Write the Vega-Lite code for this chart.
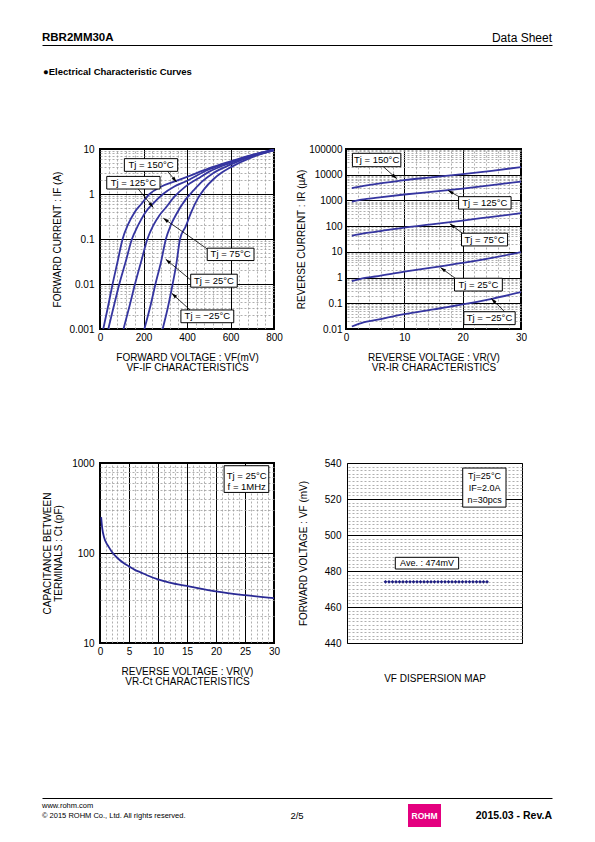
{
  "$schema": "https://vega.github.io/schema/vega-lite/v6.json",
  "padding": {"left": 40, "top": 31, "right": 5, "bottom": 5},
  "background": "white",
  "spacing": 0,
  "config": {
    "font": "Liberation Sans",
    "view": {"stroke": null},
    "axis": {"labelFont": "Liberation Sans", "titleFont": "Liberation Sans", "labelFontSize": 10, "titleFontSize": 10, "labelColor": "black", "titleColor": "black", "titleFontWeight": "normal", "ticks": false, "domain": false, "grid": false, "labelFlush": false, "labelOverlap": false, "labelBound": false},
    "text": {"font": "Liberation Sans", "color": "black"}
  },
  "datasets": {
    "vfif": [
      {"tj": "150", "vf": 15, "cur": 0.001}, {"tj": "150", "vf": 36, "cur": 0.003}, {"tj": "150", "vf": 58, "cur": 0.01}, {"tj": "150", "vf": 80, "cur": 0.03}, {"tj": "150", "vf": 104, "cur": 0.1}, {"tj": "150", "vf": 127, "cur": 0.2}, {"tj": "150", "vf": 160, "cur": 0.4}, {"tj": "150", "vf": 190, "cur": 0.6}, {"tj": "150", "vf": 228, "cur": 1.0}, {"tj": "150", "vf": 280, "cur": 1.45}, {"tj": "150", "vf": 350, "cur": 1.95}, {"tj": "150", "vf": 400, "cur": 2.4}, {"tj": "150", "vf": 500, "cur": 3.7}, {"tj": "150", "vf": 600, "cur": 5.3}, {"tj": "150", "vf": 700, "cur": 7.4}, {"tj": "150", "vf": 800, "cur": 9.7},
      {"tj": "125", "vf": 38, "cur": 0.001}, {"tj": "125", "vf": 62, "cur": 0.003}, {"tj": "125", "vf": 89, "cur": 0.01}, {"tj": "125", "vf": 117, "cur": 0.03}, {"tj": "125", "vf": 147, "cur": 0.1}, {"tj": "125", "vf": 175, "cur": 0.2}, {"tj": "125", "vf": 210, "cur": 0.4}, {"tj": "125", "vf": 245, "cur": 0.62}, {"tj": "125", "vf": 290, "cur": 1.0}, {"tj": "125", "vf": 340, "cur": 1.45}, {"tj": "125", "vf": 394, "cur": 1.9}, {"tj": "125", "vf": 500, "cur": 3.5}, {"tj": "125", "vf": 600, "cur": 5.1}, {"tj": "125", "vf": 700, "cur": 7.3}, {"tj": "125", "vf": 800, "cur": 9.6},
      {"tj": "75", "vf": 108, "cur": 0.001}, {"tj": "75", "vf": 134, "cur": 0.003}, {"tj": "75", "vf": 161, "cur": 0.01}, {"tj": "75", "vf": 188, "cur": 0.03}, {"tj": "75", "vf": 218, "cur": 0.1}, {"tj": "75", "vf": 245, "cur": 0.2}, {"tj": "75", "vf": 272, "cur": 0.33}, {"tj": "75", "vf": 303, "cur": 0.5}, {"tj": "75", "vf": 340, "cur": 0.85}, {"tj": "75", "vf": 394, "cur": 1.48}, {"tj": "75", "vf": 450, "cur": 2.2}, {"tj": "75", "vf": 500, "cur": 3.1}, {"tj": "75", "vf": 600, "cur": 4.9}, {"tj": "75", "vf": 700, "cur": 7.1}, {"tj": "75", "vf": 800, "cur": 9.5},
      {"tj": "25", "vf": 204, "cur": 0.001}, {"tj": "25", "vf": 230, "cur": 0.003}, {"tj": "25", "vf": 255, "cur": 0.01}, {"tj": "25", "vf": 280, "cur": 0.03}, {"tj": "25", "vf": 303, "cur": 0.1}, {"tj": "25", "vf": 325, "cur": 0.2}, {"tj": "25", "vf": 350, "cur": 0.35}, {"tj": "25", "vf": 394, "cur": 0.76}, {"tj": "25", "vf": 430, "cur": 1.2}, {"tj": "25", "vf": 470, "cur": 1.9}, {"tj": "25", "vf": 520, "cur": 2.9}, {"tj": "25", "vf": 600, "cur": 4.5}, {"tj": "25", "vf": 700, "cur": 6.9}, {"tj": "25", "vf": 800, "cur": 9.4},
      {"tj": "-25", "vf": 288, "cur": 0.001}, {"tj": "-25", "vf": 312, "cur": 0.003}, {"tj": "-25", "vf": 334, "cur": 0.01}, {"tj": "-25", "vf": 352, "cur": 0.03}, {"tj": "-25", "vf": 368, "cur": 0.1}, {"tj": "-25", "vf": 394, "cur": 0.19}, {"tj": "-25", "vf": 420, "cur": 0.4}, {"tj": "-25", "vf": 450, "cur": 0.8}, {"tj": "-25", "vf": 480, "cur": 1.3}, {"tj": "-25", "vf": 520, "cur": 2.1}, {"tj": "-25", "vf": 560, "cur": 3.0}, {"tj": "-25", "vf": 600, "cur": 3.9}, {"tj": "-25", "vf": 700, "cur": 6.6}, {"tj": "-25", "vf": 800, "cur": 9.3}
    ],
    "vfifLabels": [
      {"label": "Tj = 150°C", "x1": 112, "x2": 357, "y1": 3.19, "y2": 6.1, "tx": 234.5, "ty": 4.41, "ax": 311, "ay": 3.19, "bx": 352, "by": 1.84},
      {"label": "Tj = 125°C", "x1": 31, "x2": 276, "y1": 1.29, "y2": 2.46, "tx": 153.5, "ty": 1.78, "ax": 176, "ay": 1.29, "bx": 245, "by": 0.5},
      {"label": "Tj = 75°C", "x1": 493, "x2": 708, "y1": 0.0332, "y2": 0.0625, "tx": 600.5, "ty": 0.0455, "ax": 493, "ay": 0.06, "bx": 291, "by": 0.29},
      {"label": "Tj = 25°C", "x1": 417, "x2": 631, "y1": 0.0085, "y2": 0.0165, "tx": 524, "ty": 0.0118, "ax": 417, "ay": 0.0123, "bx": 302, "by": 0.0356},
      {"label": "Tj = −25°C", "x1": 372, "x2": 615, "y1": 0.00138, "y2": 0.00265, "tx": 493.5, "ty": 0.0019, "ax": 414, "ay": 0.00265, "bx": 330, "by": 0.0062}
    ],
    "vrir": [
      {"tj": "150", "vr": 1, "ir": 3000}, {"tj": "150", "vr": 3, "ir": 3700}, {"tj": "150", "vr": 5, "ir": 4300}, {"tj": "150", "vr": 10, "ir": 6200}, {"tj": "150", "vr": 15, "ir": 8000}, {"tj": "150", "vr": 20, "ir": 10500}, {"tj": "150", "vr": 25, "ir": 14200}, {"tj": "150", "vr": 30, "ir": 19700},
      {"tj": "125", "vr": 1, "ir": 900}, {"tj": "125", "vr": 3, "ir": 1100}, {"tj": "125", "vr": 5, "ir": 1250}, {"tj": "125", "vr": 10, "ir": 1700}, {"tj": "125", "vr": 15, "ir": 2200}, {"tj": "125", "vr": 20, "ir": 2900}, {"tj": "125", "vr": 25, "ir": 3900}, {"tj": "125", "vr": 30, "ir": 5400},
      {"tj": "75", "vr": 1, "ir": 42}, {"tj": "75", "vr": 3, "ir": 52}, {"tj": "75", "vr": 5, "ir": 60}, {"tj": "75", "vr": 10, "ir": 88}, {"tj": "75", "vr": 15, "ir": 120}, {"tj": "75", "vr": 20, "ir": 165}, {"tj": "75", "vr": 25, "ir": 230}, {"tj": "75", "vr": 30, "ir": 320},
      {"tj": "25", "vr": 1, "ir": 0.72}, {"tj": "25", "vr": 3, "ir": 0.95}, {"tj": "25", "vr": 5, "ir": 1.1}, {"tj": "25", "vr": 10, "ir": 1.7}, {"tj": "25", "vr": 15, "ir": 2.5}, {"tj": "25", "vr": 20, "ir": 3.7}, {"tj": "25", "vr": 25, "ir": 5.8}, {"tj": "25", "vr": 30, "ir": 9.8},
      {"tj": "-25", "vr": 1, "ir": 0.0125}, {"tj": "-25", "vr": 3, "ir": 0.018}, {"tj": "-25", "vr": 5, "ir": 0.022}, {"tj": "-25", "vr": 10, "ir": 0.038}, {"tj": "-25", "vr": 15, "ir": 0.058}, {"tj": "-25", "vr": 20, "ir": 0.09}, {"tj": "-25", "vr": 25, "ir": 0.15}, {"tj": "-25", "vr": 30, "ir": 0.27}
    ],
    "vrirLabels": [
      {"label": "Tj = 150°C", "x1": 1.1, "x2": 9.4, "y1": 20500, "y2": 68000, "tx": 5.25, "ty": 37300, "ax": 6.4, "ay": 20500, "bx": 8.7, "by": 7000},
      {"label": "Tj = 125°C", "x1": 19.3, "x2": 28.3, "y1": 460, "y2": 1400, "tx": 23.8, "ty": 800, "ax": 19.6, "ay": 1300, "bx": 17.5, "by": 2450},
      {"label": "Tj = 75°C", "x1": 19.8, "x2": 27.7, "y1": 17, "y2": 53, "tx": 23.75, "ty": 30, "ax": 20.1, "ay": 50, "bx": 17.8, "by": 124},
      {"label": "Tj = 25°C", "x1": 18.6, "x2": 26.8, "y1": 0.3, "y2": 0.94, "tx": 22.7, "ty": 0.53, "ax": 18.9, "ay": 0.88, "bx": 16.2, "by": 2.45},
      {"label": "Tj = −25°C", "x1": 20.2, "x2": 29.0, "y1": 0.0148, "y2": 0.047, "tx": 24.6, "ty": 0.0264, "ax": 27.2, "ay": 0.047, "bx": 24.9, "by": 0.155}
    ],
    "vrct": [
      {"vr": 0.2, "ct": 250}, {"vr": 0.4, "ct": 185}, {"vr": 0.7, "ct": 150}, {"vr": 1, "ct": 133}, {"vr": 1.5, "ct": 117}, {"vr": 2, "ct": 104}, {"vr": 3, "ct": 88}, {"vr": 4, "ct": 78}, {"vr": 5, "ct": 71}, {"vr": 6, "ct": 65}, {"vr": 7, "ct": 61}, {"vr": 8, "ct": 57}, {"vr": 10, "ct": 51}, {"vr": 12, "ct": 47}, {"vr": 15, "ct": 43}, {"vr": 18, "ct": 39.5}, {"vr": 20, "ct": 37.5}, {"vr": 25, "ct": 34}, {"vr": 30, "ct": 31.5}
    ],
    "ctBox": [{"x1": 21.4, "x2": 29.1, "y1": 471, "y2": 933}],
    "ctText": [{"label": "Tj = 25°C", "tx": 25.3, "ty": 722}, {"label": "f = 1MHz", "tx": 25.3, "ty": 536}],
    "disp": [
      {"n": 1, "vf": 474}, {"n": 2, "vf": 474}, {"n": 3, "vf": 474}, {"n": 4, "vf": 474}, {"n": 5, "vf": 474}, {"n": 6, "vf": 474}, {"n": 7, "vf": 474}, {"n": 8, "vf": 474}, {"n": 9, "vf": 474}, {"n": 10, "vf": 474},
      {"n": 11, "vf": 474}, {"n": 12, "vf": 474}, {"n": 13, "vf": 474}, {"n": 14, "vf": 474}, {"n": 15, "vf": 474}, {"n": 16, "vf": 474}, {"n": 17, "vf": 474}, {"n": 18, "vf": 474}, {"n": 19, "vf": 474}, {"n": 20, "vf": 474},
      {"n": 21, "vf": 474}, {"n": 22, "vf": 474}, {"n": 23, "vf": 474}, {"n": 24, "vf": 474}, {"n": 25, "vf": 474}, {"n": 26, "vf": 474}, {"n": 27, "vf": 474}, {"n": 28, "vf": 474}, {"n": 29, "vf": 474}, {"n": 30, "vf": 474}
    ],
    "dispBox": [{"x1": 23.06, "x2": 35.43, "y1": 515.5, "y2": 537.2}, {"x1": 3.8, "x2": 21.9, "y1": 481.1, "y2": 487.6}],
    "dispText": [{"label": "Tj=25°C", "tx": 29.3, "ty": 532.9}, {"label": "IF=2.0A", "tx": 29.3, "ty": 526.1}, {"label": "n=30pcs", "tx": 29.3, "ty": 519.2}, {"label": "Ave. : 474mV", "tx": 12.86, "ty": 484.3}]
  },
  "vconcat": [
    {
      "width": 452, "height": 14,
      "data": {"values": [{"label": "RBR2MM30A", "col": "left"}, {"label": "Data Sheet", "col": "right"}]},
      "encoding": {
        "x": {"field": "col", "type": "nominal", "scale": {"type": "point", "domain": ["left", "right"], "padding": 0, "range": [-58, 452]}, "axis": {"orient": "bottom", "labels": false, "ticks": false, "grid": false, "domain": true, "domainColor": "black", "domainWidth": 1, "title": null}},
        "text": {"field": "label"}
      },
      "layer": [
        {"transform": [{"filter": "datum.col === 'left'"}], "mark": {"type": "text", "align": "left", "baseline": "middle", "fontSize": 11.5, "fontWeight": "bold"}},
        {"transform": [{"filter": "datum.col === 'right'"}], "mark": {"type": "text", "align": "right", "baseline": "middle", "fontSize": 12}}
      ]
    },
    {
      "width": 452, "height": 54,
      "data": {"values": [{"label": "●Electrical Characteristic Curves", "col": "left"}]},
      "mark": {"type": "text", "align": "left", "baseline": "middle", "fontSize": 9.5, "fontWeight": "bold"},
      "encoding": {
        "x": {"field": "col", "type": "nominal", "scale": {"type": "point", "domain": ["left", "right"], "padding": 0, "range": [-57, 452]}, "axis": null},
        "text": {"field": "label"}
      }
    },
    {"width": 1, "height": 44, "data": {"values": []}, "mark": {"type": "point", "opacity": 0}},
    {
      "bounds": "flush",
      "spacing": 72,
      "hconcat": [
        {
          "width": 174, "height": 180,
          "view": {"stroke": "black", "strokeWidth": 2},
          "layer": [
            {
              "data": {"name": "vfif"},
              "mark": {"type": "line", "color": "#3535a0", "strokeWidth": 1.8, "interpolate": "monotone", "clip": true},
              "encoding": {
                "x": {"field": "vf", "type": "quantitative", "scale": {"domain": [0, 800], "nice": false, "zero": false},
                  "axis": {"orient": "top", "values": [40, 80, 120, 160, 240, 280, 320, 360, 440, 480, 520, 560, 640, 680, 720, 760], "grid": true, "gridColor": "#9a9a9a", "gridDash": [2, 2], "gridWidth": 0.8, "labels": false, "title": null}},
                "y": {"field": "cur", "type": "quantitative", "scale": {"type": "log", "domain": [0.001, 10], "nice": false},
                  "axis": {"orient": "right", "values": [0.002, 0.003, 0.004, 0.005, 0.006, 0.007, 0.008, 0.009, 0.02, 0.03, 0.04, 0.05, 0.06, 0.07, 0.08, 0.09, 0.2, 0.3, 0.4, 0.5, 0.6, 0.7, 0.8, 0.9, 2, 3, 4, 5, 6, 7, 8, 9], "grid": true, "gridColor": "#9a9a9a", "gridDash": [2, 2], "gridWidth": 0.8, "labels": false, "title": null}},
                "detail": {"field": "tj", "type": "nominal"}
              }
            },
            {
              "data": {"name": "vfifLabels"},
              "mark": {"type": "rule", "color": "black", "strokeWidth": 0.8},
              "encoding": {
                "x": {"field": "ax", "type": "quantitative", "scale": {"domain": [0, 800], "nice": false, "zero": false},
                  "axis": {"orient": "bottom", "values": [0, 200, 400, 600, 800], "grid": true, "gridColor": "black", "gridWidth": 1, "labelPadding": 3, "title": ["FORWARD VOLTAGE : VF(mV)", "VF-IF CHARACTERISTICS"], "titlePadding": 10, "titleLineHeight": 10}},
                "y": {"field": "ay", "type": "quantitative", "scale": {"type": "log", "domain": [0.001, 10], "nice": false},
                  "axis": {"orient": "left", "values": [0.001, 0.01, 0.1, 1, 10], "format": "~g", "grid": true, "gridColor": "black", "gridWidth": 1, "labelPadding": 6, "title": ["", "FORWARD CURRENT : IF (A)"], "titlePadding": 6, "titleLineHeight": 11}},
                "x2": {"field": "bx"}, "y2": {"field": "by"}
              }
            },
            {
              "data": {"name": "vfifLabels"},
              "mark": {"type": "rect", "fill": "white", "stroke": "black", "strokeWidth": 1},
              "encoding": {
                "x": {"field": "x1", "type": "quantitative", "axis": null}, "x2": {"field": "x2"},
                "y": {"field": "y1", "type": "quantitative", "axis": null}, "y2": {"field": "y2"}
              }
            },
            {
              "data": {"name": "vfifLabels"},
              "mark": {"type": "text", "fontSize": 9.5, "align": "center", "baseline": "middle"},
              "encoding": {
                "x": {"field": "tx", "type": "quantitative", "axis": null},
                "y": {"field": "ty", "type": "quantitative", "axis": null},
                "text": {"field": "label"}
              }
            },
            {"data": {"name": "vfifLabels"}, "transform": [{"filter": "datum.label === 'Tj = 150°C'"}], "mark": {"type": "point", "shape": "M0,0L-0.5,1.6L0.5,1.6Z", "size": 50, "filled": true, "color": "black", "opacity": 1, "angle": 140.5}, "encoding": {"x": {"field": "bx", "type": "quantitative", "axis": null}, "y": {"field": "by", "type": "quantitative", "axis": null}}},
            {"data": {"name": "vfifLabels"}, "transform": [{"filter": "datum.label === 'Tj = 125°C'"}], "mark": {"type": "point", "shape": "M0,0L-0.5,1.6L0.5,1.6Z", "size": 50, "filled": true, "color": "black", "opacity": 1, "angle": 141}, "encoding": {"x": {"field": "bx", "type": "quantitative", "axis": null}, "y": {"field": "by", "type": "quantitative", "axis": null}}},
            {"data": {"name": "vfifLabels"}, "transform": [{"filter": "datum.label === 'Tj = 75°C'"}], "mark": {"type": "point", "shape": "M0,0L-0.5,1.6L0.5,1.6Z", "size": 50, "filled": true, "color": "black", "opacity": 1, "angle": 305}, "encoding": {"x": {"field": "bx", "type": "quantitative", "axis": null}, "y": {"field": "by", "type": "quantitative", "axis": null}}},
            {"data": {"name": "vfifLabels"}, "transform": [{"filter": "datum.label === 'Tj = 25°C'"}], "mark": {"type": "point", "shape": "M0,0L-0.5,1.6L0.5,1.6Z", "size": 50, "filled": true, "color": "black", "opacity": 1, "angle": 310}, "encoding": {"x": {"field": "bx", "type": "quantitative", "axis": null}, "y": {"field": "by", "type": "quantitative", "axis": null}}},
            {"data": {"name": "vfifLabels"}, "transform": [{"filter": "datum.label === 'Tj = −25°C'"}], "mark": {"type": "point", "shape": "M0,0L-0.5,1.6L0.5,1.6Z", "size": 50, "filled": true, "color": "black", "opacity": 1, "angle": 312}, "encoding": {"x": {"field": "bx", "type": "quantitative", "axis": null}, "y": {"field": "by", "type": "quantitative", "axis": null}}}
          ],
          "resolve": {"axis": {"x": "independent", "y": "independent"}}
        },
        {
          "width": 175, "height": 180,
          "view": {"stroke": "black", "strokeWidth": 2},
          "layer": [
            {
              "data": {"name": "vrir"},
              "mark": {"type": "line", "color": "#3535a0", "strokeWidth": 1.8, "interpolate": "monotone", "clip": true},
              "encoding": {
                "x": {"field": "vr", "type": "quantitative", "scale": {"domain": [0, 30], "nice": false, "zero": false},
                  "axis": {"orient": "top", "values": [2, 4, 6, 8, 12, 14, 16, 18, 22, 24, 26, 28], "grid": true, "gridColor": "#9a9a9a", "gridDash": [2, 2], "gridWidth": 0.8, "labels": false, "title": null}},
                "y": {"field": "ir", "type": "quantitative", "scale": {"type": "log", "domain": [0.01, 100000], "nice": false},
                  "axis": {"orient": "right", "values": [0.02, 0.03, 0.04, 0.05, 0.06, 0.07, 0.08, 0.09, 0.2, 0.3, 0.4, 0.5, 0.6, 0.7, 0.8, 0.9, 2, 3, 4, 5, 6, 7, 8, 9, 20, 30, 40, 50, 60, 70, 80, 90, 200, 300, 400, 500, 600, 700, 800, 900, 2000, 3000, 4000, 5000, 6000, 7000, 8000, 9000, 20000, 30000, 40000, 50000, 60000, 70000, 80000, 90000], "grid": true, "gridColor": "#9a9a9a", "gridDash": [2, 2], "gridWidth": 0.8, "labels": false, "title": null}},
                "detail": {"field": "tj", "type": "nominal"}
              }
            },
            {
              "data": {"name": "vrirLabels"},
              "mark": {"type": "rule", "color": "black", "strokeWidth": 0.8},
              "encoding": {
                "x": {"field": "ax", "type": "quantitative", "scale": {"domain": [0, 30], "nice": false, "zero": false},
                  "axis": {"orient": "bottom", "values": [0, 10, 20, 30], "grid": true, "gridColor": "black", "gridWidth": 1, "labelPadding": 3, "title": ["REVERSE VOLTAGE : VR(V)", "VR-IR CHARACTERISTICS"], "titlePadding": 10, "titleLineHeight": 10}},
                "y": {"field": "ay", "type": "quantitative", "scale": {"type": "log", "domain": [0.01, 100000], "nice": false},
                  "axis": {"orient": "left", "values": [0.01, 0.1, 1, 10, 100, 1000, 10000, 100000], "format": "~g", "grid": true, "gridColor": "black", "gridWidth": 1, "labelPadding": 4, "title": "REVERSE CURRENT : IR (µA)", "titlePadding": 2}},
                "x2": {"field": "bx"}, "y2": {"field": "by"}
              }
            },
            {
              "data": {"name": "vrirLabels"},
              "mark": {"type": "rect", "fill": "white", "stroke": "black", "strokeWidth": 1},
              "encoding": {
                "x": {"field": "x1", "type": "quantitative", "axis": null}, "x2": {"field": "x2"},
                "y": {"field": "y1", "type": "quantitative", "axis": null}, "y2": {"field": "y2"}
              }
            },
            {
              "data": {"name": "vrirLabels"},
              "mark": {"type": "text", "fontSize": 9.5, "align": "center", "baseline": "middle"},
              "encoding": {
                "x": {"field": "tx", "type": "quantitative", "axis": null},
                "y": {"field": "ty", "type": "quantitative", "axis": null},
                "text": {"field": "label"}
              }
            },
            {"data": {"name": "vrirLabels"}, "transform": [{"filter": "datum.label === 'Tj = 150°C'"}], "mark": {"type": "point", "shape": "M0,0L-0.5,1.6L0.5,1.6Z", "size": 50, "filled": true, "color": "black", "opacity": 1, "angle": 132}, "encoding": {"x": {"field": "bx", "type": "quantitative", "axis": null}, "y": {"field": "by", "type": "quantitative", "axis": null}}},
            {"data": {"name": "vrirLabels"}, "transform": [{"filter": "datum.label === 'Tj = 125°C'"}], "mark": {"type": "point", "shape": "M0,0L-0.5,1.6L0.5,1.6Z", "size": 50, "filled": true, "color": "black", "opacity": 1, "angle": 300}, "encoding": {"x": {"field": "bx", "type": "quantitative", "axis": null}, "y": {"field": "by", "type": "quantitative", "axis": null}}},
            {"data": {"name": "vrirLabels"}, "transform": [{"filter": "datum.label === 'Tj = 75°C'"}], "mark": {"type": "point", "shape": "M0,0L-0.5,1.6L0.5,1.6Z", "size": 50, "filled": true, "color": "black", "opacity": 1, "angle": 307}, "encoding": {"x": {"field": "bx", "type": "quantitative", "axis": null}, "y": {"field": "by", "type": "quantitative", "axis": null}}},
            {"data": {"name": "vrirLabels"}, "transform": [{"filter": "datum.label === 'Tj = 25°C'"}], "mark": {"type": "point", "shape": "M0,0L-0.5,1.6L0.5,1.6Z", "size": 50, "filled": true, "color": "black", "opacity": 1, "angle": 306}, "encoding": {"x": {"field": "bx", "type": "quantitative", "axis": null}, "y": {"field": "by", "type": "quantitative", "axis": null}}},
            {"data": {"name": "vrirLabels"}, "transform": [{"filter": "datum.label === 'Tj = −25°C'"}], "mark": {"type": "point", "shape": "M0,0L-0.5,1.6L0.5,1.6Z", "size": 50, "filled": true, "color": "black", "opacity": 1, "angle": 315}, "encoding": {"x": {"field": "bx", "type": "quantitative", "axis": null}, "y": {"field": "by", "type": "quantitative", "axis": null}}}
          ],
          "resolve": {"axis": {"x": "independent", "y": "independent"}}
        }
      ]
    },
    {"width": 1, "height": 83.5, "data": {"values": []}, "mark": {"type": "point", "opacity": 0}},
    {
      "bounds": "flush",
      "spacing": 73,
      "hconcat": [
        {
          "width": 174, "height": 180,
          "view": {"stroke": "black", "strokeWidth": 2},
          "layer": [
            {
              "data": {"name": "ctBox"},
              "mark": {"type": "rect", "fill": "white", "stroke": "black", "strokeWidth": 1},
              "encoding": {
                "x": {"field": "x1", "type": "quantitative", "scale": {"domain": [0, 30], "nice": false, "zero": false},
                  "axis": {"orient": "top", "values": [1, 2, 3, 4, 6, 7, 8, 9, 11, 12, 13, 14, 16, 17, 18, 19, 21, 22, 23, 24, 26, 27, 28, 29], "grid": true, "gridColor": "#9a9a9a", "gridDash": [2, 2], "gridWidth": 0.8, "labels": false, "title": null}},
                "x2": {"field": "x2"},
                "y": {"field": "y1", "type": "quantitative", "scale": {"type": "log", "domain": [10, 1000], "nice": false},
                  "axis": {"orient": "right", "values": [20, 30, 40, 50, 60, 70, 80, 90, 200, 300, 400, 500, 600, 700, 800, 900], "grid": true, "gridColor": "#9a9a9a", "gridDash": [2, 2], "gridWidth": 0.8, "labels": false, "title": null}},
                "y2": {"field": "y2"}
              }
            },
            {
              "data": {"name": "vrct"},
              "mark": {"type": "line", "color": "#2a2a95", "strokeWidth": 1.8, "interpolate": "monotone", "clip": true},
              "encoding": {
                "x": {"field": "vr", "type": "quantitative", "scale": {"domain": [0, 30], "nice": false, "zero": false},
                  "axis": {"orient": "bottom", "values": [0, 5, 10, 15, 20, 25, 30], "grid": true, "gridColor": "black", "gridWidth": 1, "labelPadding": 3, "title": ["REVERSE VOLTAGE : VR(V)", "VR-Ct CHARACTERISTICS"], "titlePadding": 10, "titleLineHeight": 10}},
                "y": {"field": "ct", "type": "quantitative", "scale": {"type": "log", "domain": [10, 1000], "nice": false},
                  "axis": {"orient": "left", "values": [10, 100, 1000], "format": "~g", "grid": true, "gridColor": "black", "gridWidth": 1, "labelPadding": 6, "title": ["CAPACITANCE BETWEEN", "TERMINALS : Ct (pF)"], "titlePadding": 8.5, "titleLineHeight": 11}}
              }
            },
            {
              "data": {"name": "ctText"},
              "mark": {"type": "text", "fontSize": 9.5, "align": "center", "baseline": "middle"},
              "encoding": {
                "x": {"field": "tx", "type": "quantitative", "axis": null},
                "y": {"field": "ty", "type": "quantitative", "axis": null},
                "text": {"field": "label"}
              }
            }
          ],
          "resolve": {"axis": {"x": "independent", "y": "independent"}}
        },
        {
          "width": 175, "height": 180,
          "view": {"stroke": "black", "strokeWidth": 1},
          "layer": [
            {
              "data": {"name": "dispBox"},
              "mark": {"type": "rect", "fill": "white", "stroke": "black", "strokeWidth": 1},
              "encoding": {
                "x": {"field": "x1", "type": "quantitative", "scale": {"domain": [-10, 40], "nice": false, "zero": false}, "axis": null},
                "x2": {"field": "x2"},
                "y": {"field": "y1", "type": "quantitative", "scale": {"domain": [440, 540], "nice": false, "zero": false},
                  "axis": {"orient": "right", "values": [442, 444, 446, 448, 450, 452, 454, 456, 458, 462, 464, 466, 468, 470, 472, 474, 476, 478, 482, 484, 486, 488, 490, 492, 494, 496, 498, 502, 504, 506, 508, 510, 512, 514, 516, 518, 522, 524, 526, 528, 530, 532, 534, 536, 538], "grid": true, "gridColor": "#9a9a9a", "gridDash": [2, 2], "gridWidth": 0.8, "labels": false, "title": null}},
                "y2": {"field": "y2"}
              }
            },
            {
              "data": {"name": "disp"},
              "mark": {"type": "point", "shape": "diamond", "filled": true, "size": 14, "color": "#1c1c80", "opacity": 1},
              "encoding": {
                "x": {"field": "n", "type": "quantitative", "scale": {"domain": [-10, 40], "nice": false, "zero": false},
                  "axis": {"orient": "bottom", "labels": false, "grid": false, "title": "VF DISPERSION MAP", "titlePadding": 30}},
                "y": {"field": "vf", "type": "quantitative", "scale": {"domain": [440, 540], "nice": false, "zero": false},
                  "axis": {"orient": "left", "values": [440, 460, 480, 500, 520, 540], "grid": true, "gridColor": "black", "gridWidth": 1, "labelPadding": 6, "title": "FORWARD VOLTAGE : VF (mV)", "titlePadding": 16}}
              }
            },
            {
              "data": {"name": "dispText"},
              "mark": {"type": "text", "fontSize": 9, "align": "center", "baseline": "middle"},
              "encoding": {
                "x": {"field": "tx", "type": "quantitative", "axis": null},
                "y": {"field": "ty", "type": "quantitative", "axis": null},
                "text": {"field": "label"}
              }
            }
          ],
          "resolve": {"axis": {"x": "independent", "y": "independent"}}
        }
      ]
    },
    {"width": 1, "height": 111, "data": {"values": []}, "mark": {"type": "point", "opacity": 0}},
    {
      "width": 452, "height": 25,
      "data": {"values": [
        {"label": "www.rohm.com", "col": "left", "line": "r1"},
        {"label": "© 2015  ROHM Co., Ltd. All rights reserved.", "col": "left", "line": "r2"},
        {"label": "2/5", "col": "center", "line": "r2"},
        {"label": "ROHM", "col": "logo", "line": "r2"},
        {"label": "2015.03 -  Rev.A", "col": "right", "line": "r2"}
      ]},
      "encoding": {
        "x": {"field": "col", "type": "nominal", "scale": {"type": "point", "domain": ["left", "c1", "c2", "c3", "center", "c5", "logo", "c7", "right"], "padding": 0, "range": [-58, 452]}, "axis": {"orient": "top", "labels": false, "ticks": false, "grid": false, "domain": true, "domainColor": "black", "domainWidth": 1, "title": null}},
        "y": {"field": "line", "type": "nominal", "scale": {"type": "point", "domain": ["r1", "r2"], "padding": 0.75}, "axis": null}
      },
      "layer": [
        {"transform": [{"filter": "datum.col === 'left'"}], "mark": {"type": "text", "align": "left", "baseline": "middle", "fontSize": 7.5}, "encoding": {"text": {"field": "label"}}},
        {"transform": [{"filter": "datum.col === 'center'"}], "mark": {"type": "text", "align": "center", "baseline": "middle", "fontSize": 9.5}, "encoding": {"text": {"field": "label"}}},
        {"transform": [{"filter": "datum.col === 'logo'"}], "mark": {"type": "point", "shape": "M-1,-0.7L1,-0.7L1,0.7L-1,0.7Z", "size": 1089, "filled": true, "color": "#e4007f", "opacity": 1, "strokeWidth": 0}},
        {"transform": [{"filter": "datum.col === 'logo'"}], "mark": {"type": "text", "align": "center", "baseline": "middle", "fontSize": 8.5, "fontWeight": "bold", "color": "white"}, "encoding": {"text": {"field": "label"}}},
        {"transform": [{"filter": "datum.col === 'right'"}], "mark": {"type": "text", "align": "right", "baseline": "middle", "fontSize": 10.5, "fontWeight": "bold"}, "encoding": {"text": {"field": "label"}}}
      ]
    }
  ]
}
